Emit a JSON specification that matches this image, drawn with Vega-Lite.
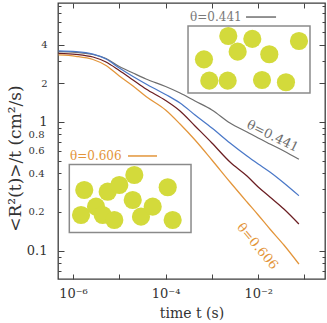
{
  "$schema": "https://vega.github.io/schema/vega-lite/v6.json",
  "width": 267,
  "height": 276,
  "autosize": {"type": "none"},
  "padding": {"left": 58, "top": 3, "right": 2, "bottom": 44},
  "background": "white",
  "config": {
    "view": {"stroke": "#3c3c3c", "strokeWidth": 1.3},
    "font": "DejaVu Serif"
  },
  "datasets": {
    "curves": [
      {"t": 4.87e-7, "r": 3.517, "curve": "s1"}, {"t": 1.161e-6, "r": 3.48, "curve": "s1"}, {"t": 2.7e-6, "r": 3.345, "curve": "s1"}, {"t": 5.16e-6, "r": 3.114, "curve": "s1"}, {"t": 1.0e-5, "r": 2.7, "curve": "s1"}, {"t": 1.977e-5, "r": 2.403, "curve": "s1"}, {"t": 3.775e-5, "r": 2.159, "curve": "s1"}, {"t": 1.0e-4, "r": 1.887, "curve": "s1"}, {"t": 2.05e-4, "r": 1.68, "curve": "s1"}, {"t": 4.32e-4, "r": 1.456, "curve": "s1"}, {"t": 1.0e-3, "r": 1.24, "curve": "s1"}, {"t": 2.46e-3, "r": 0.982, "curve": "s1"}, {"t": 5.73e-3, "r": 0.836, "curve": "s1"}, {"t": 1.0e-2, "r": 0.751, "curve": "s1"}, {"t": 1.79e-2, "r": 0.675, "curve": "s1"}, {"t": 3.59e-2, "r": 0.595, "curve": "s1"}, {"t": 7.57e-2, "r": 0.513, "curve": "s1"},
      {"t": 4.87e-7, "r": 3.562, "curve": "s2"}, {"t": 1.161e-6, "r": 3.517, "curve": "s2"}, {"t": 2.7e-6, "r": 3.363, "curve": "s2"}, {"t": 5.16e-6, "r": 3.087, "curve": "s2"}, {"t": 1.0e-5, "r": 2.628, "curve": "s2"}, {"t": 1.977e-5, "r": 2.257, "curve": "s2"}, {"t": 3.775e-5, "r": 1.974, "curve": "s2"}, {"t": 1.0e-4, "r": 1.636, "curve": "s2"}, {"t": 2.05e-4, "r": 1.405, "curve": "s2"}, {"t": 4.32e-4, "r": 1.133, "curve": "s2"}, {"t": 1.0e-3, "r": 0.898, "curve": "s2"}, {"t": 2.46e-3, "r": 0.687, "curve": "s2"}, {"t": 5.73e-3, "r": 0.544, "curve": "s2"}, {"t": 1.0e-2, "r": 0.472, "curve": "s2"}, {"t": 1.79e-2, "r": 0.409, "curve": "s2"}, {"t": 3.59e-2, "r": 0.336, "curve": "s2"}, {"t": 7.57e-2, "r": 0.2676, "curve": "s2"},
      {"t": 4.87e-7, "r": 3.419, "curve": "s3"}, {"t": 1.161e-6, "r": 3.357, "curve": "s3"}, {"t": 2.7e-6, "r": 3.199, "curve": "s3"}, {"t": 5.16e-6, "r": 2.926, "curve": "s3"}, {"t": 1.0e-5, "r": 2.512, "curve": "s3"}, {"t": 1.977e-5, "r": 2.12, "curve": "s3"}, {"t": 3.775e-5, "r": 1.805, "curve": "s3"}, {"t": 1.0e-4, "r": 1.469, "curve": "s3"}, {"t": 2.05e-4, "r": 1.218, "curve": "s3"}, {"t": 4.32e-4, "r": 0.931, "curve": "s3"}, {"t": 1.0e-3, "r": 0.687, "curve": "s3"}, {"t": 2.46e-3, "r": 0.489, "curve": "s3"}, {"t": 5.73e-3, "r": 0.3806, "curve": "s3"}, {"t": 1.0e-2, "r": 0.3126, "curve": "s3"}, {"t": 1.79e-2, "r": 0.2615, "curve": "s3"}, {"t": 3.59e-2, "r": 0.2109, "curve": "s3"}, {"t": 7.57e-2, "r": 0.1612, "curve": "s3"},
      {"t": 4.87e-7, "r": 3.316, "curve": "s4"}, {"t": 1.161e-6, "r": 3.24, "curve": "s4"}, {"t": 2.7e-6, "r": 3.059, "curve": "s4"}, {"t": 5.16e-6, "r": 2.748, "curve": "s4"}, {"t": 1.0e-5, "r": 2.278, "curve": "s4"}, {"t": 1.977e-5, "r": 1.904, "curve": "s4"}, {"t": 3.775e-5, "r": 1.578, "curve": "s4"}, {"t": 1.0e-4, "r": 1.24, "curve": "s4"}, {"t": 2.05e-4, "r": 0.965, "curve": "s4"}, {"t": 4.32e-4, "r": 0.7246, "curve": "s4"}, {"t": 1.0e-3, "r": 0.5067, "curve": "s4"}, {"t": 2.46e-3, "r": 0.3418, "curve": "s4"}, {"t": 5.73e-3, "r": 0.239, "curve": "s4"}, {"t": 1.0e-2, "r": 0.1894, "curve": "s4"}, {"t": 1.79e-2, "r": 0.1474, "curve": "s4"}, {"t": 3.59e-2, "r": 0.1107, "curve": "s4"}, {"t": 7.57e-2, "r": 0.0788, "curve": "s4"}
    ],
    "boxes": [
      {"t1": 3.05e-4, "t2": 0.1315, "r1": 1.68, "r2": 5.57},
      {"t1": 8.32e-7, "t2": 3.54e-4, "r1": 0.1384, "r2": 0.4676}
    ],
    "discs": [
      {"t": 2.26e-3, "r": 4.66}, {"t": 7.46e-3, "r": 4.42}, {"t": 3.6e-3, "r": 3.52}, {"t": 0.076, "r": 4.26}, {"t": 6.74e-4, "r": 3.07}, {"t": 0.01738, "r": 3.36}, {"t": 8.79e-4, "r": 2.094}, {"t": 2.19e-3, "r": 2.094}, {"t": 0.01208, "r": 2.12}, {"t": 0.0398, "r": 2.035},
      {"t": 1.75e-6, "r": 0.2962}, {"t": 5.61e-6, "r": 0.2873}, {"t": 1.0e-5, "r": 0.324}, {"t": 2.11e-5, "r": 0.3875}, {"t": 1.11e-4, "r": 0.311}, {"t": 1.49e-6, "r": 0.1894}, {"t": 3.14e-6, "r": 0.2197}, {"t": 4.38e-6, "r": 0.1894}, {"t": 7.8e-6, "r": 0.1732}, {"t": 1.95e-5, "r": 0.2477}, {"t": 2.94e-5, "r": 0.1837}, {"t": 5.26e-5, "r": 0.2197}, {"t": 1.42e-4, "r": 0.1732}
    ],
    "keys": [
      {"t1": 5.46e-3, "t2": 0.0243, "r": 6.54, "curve": "s1"},
      {"t1": 1.54e-5, "t2": 6.52e-5, "r": 0.5444, "curve": "s4"}
    ]
  },
  "layer": [
    {
      "data": {"name": "curves"},
      "mark": {"type": "line", "strokeWidth": 1.25, "interpolate": "monotone"},
      "encoding": {
        "x": {
          "field": "t", "type": "quantitative",
          "scale": {"type": "log", "domain": [4.74e-7, 0.2773], "nice": false},
          "axis": {
            "orient": "bottom", "domain": false, "grid": false,
            "values": [1e-6, 1e-5, 1e-4, 1e-3, 1e-2, 1e-1],
            "labelExpr": "round(log(datum.value)/LN10) == -6 ? '10⁻⁶' : round(log(datum.value)/LN10) == -4 ? '10⁻⁴' : round(log(datum.value)/LN10) == -2 ? '10⁻²' : ''",
            "tickSize": -5, "tickColor": "#444", "labelPadding": 13,
            "labelFont": "DejaVu Serif", "labelFontSize": 13, "labelColor": "#333",
            "labelFlush": false, "labelOverlap": false,
            "title": "time t (s)", "titleFont": "DejaVu Serif", "titleFontSize": 14,
            "titleFontWeight": "normal", "titleColor": "#333",
            "titleY": 34, "titleBaseline": "middle"
          }
        },
        "y": {
          "field": "r", "type": "quantitative",
          "scale": {"type": "log", "domain": [0.06026, 8.406], "nice": false},
          "axis": {
            "orient": "left", "domain": false, "grid": false,
            "values": [0.07, 0.08, 0.09, 0.1, 0.2, 0.3, 0.4, 0.5, 0.6, 0.7, 0.8, 0.9, 1, 2, 3, 4, 5, 6, 7, 8],
            "labelExpr": "indexof([0.1, 0.2, 0.4, 0.6, 0.8, 1, 2, 4], datum.value) >= 0 ? datum.value + '' : ''",
            "tickSize": {"condition": {"test": "indexof([0.1, 1, 2, 4], datum.value) >= 0", "value": -6}, "value": -3},
            "tickColor": "#444", "labelPadding": 17,
            "labelFont": "DejaVu Serif", "labelColor": "#333",
            "labelFontSize": {"condition": {"test": "datum.value == 1 || datum.value == 0.1", "value": 13}, "value": 10},
            "labelOverlap": false,
            "title": "<R²(t)>/t (cm²/s)", "titleFont": "DejaVu Serif", "titleFontSize": 17,
            "titleFontWeight": "normal", "titleColor": "#333",
            "titleX": -43, "titleY": 155, "titleAlign": "center", "titleBaseline": "middle", "titleAngle": -90
          }
        },
        "color": {
          "field": "curve", "type": "nominal",
          "scale": {"domain": ["s1", "s2", "s3", "s4"], "range": ["#6e6e6e", "#4a78c8", "#6b1e22", "#e3953a"]},
          "legend": null
        }
      }
    },
    {
      "data": {"name": "boxes"},
      "mark": {"type": "rect", "filled": false, "stroke": "#8a8a8a", "strokeWidth": 1.5},
      "encoding": {
        "x": {
          "field": "t1", "type": "quantitative",
          "scale": {"type": "log", "domain": [4.74e-7, 0.2773], "nice": false},
          "axis": {
            "orient": "top", "domain": false, "grid": false, "labels": false, "title": null,
            "values": [1e-6, 1e-5, 1e-4, 1e-3, 1e-2, 1e-1],
            "tickSize": -5, "tickColor": "#444"
          }
        },
        "x2": {"field": "t2"},
        "y": {
          "field": "r1", "type": "quantitative",
          "scale": {"type": "log", "domain": [0.06026, 8.406], "nice": false},
          "axis": {
            "orient": "right", "domain": false, "grid": false, "labels": false, "title": null,
            "values": [0.07, 0.08, 0.09, 0.1, 0.2, 0.3, 0.4, 0.5, 0.6, 0.7, 0.8, 0.9, 1, 2, 3, 4, 5, 6, 7, 8],
            "tickSize": {"condition": {"test": "indexof([0.1, 1, 2, 4], datum.value) >= 0", "value": -6}, "value": -3},
            "tickColor": "#444"
          }
        },
        "y2": {"field": "r2"}
      }
    },
    {
      "data": {"name": "discs"},
      "mark": {"type": "point", "shape": "circle", "filled": true, "size": 330, "color": "#d3da3b", "opacity": 1},
      "encoding": {
        "x": {"field": "t", "type": "quantitative", "scale": {"type": "log", "domain": [4.74e-7, 0.2773], "nice": false}, "axis": null},
        "y": {"field": "r", "type": "quantitative", "scale": {"type": "log", "domain": [0.06026, 8.406], "nice": false}, "axis": null}
      }
    },
    {
      "data": {"name": "keys"},
      "mark": {"type": "rule", "strokeWidth": 1.5},
      "encoding": {
        "x": {"field": "t1", "type": "quantitative", "scale": {"type": "log", "domain": [4.74e-7, 0.2773], "nice": false}, "axis": null},
        "x2": {"field": "t2"},
        "y": {"field": "r", "type": "quantitative", "scale": {"type": "log", "domain": [0.06026, 8.406], "nice": false}, "axis": null},
        "color": {"field": "curve", "type": "nominal", "scale": {"domain": ["s1", "s2", "s3", "s4"], "range": ["#6e6e6e", "#4a78c8", "#6b1e22", "#e3953a"]}, "legend": null}
      }
    },
    {
      "data": {"values": [{"t": 3.37e-4, "r": 6.54, "label": "θ=0.441"}]},
      "mark": {"type": "text", "align": "left", "baseline": "middle", "font": "DejaVu Serif", "fontSize": 12, "color": "#7a7a7a"},
      "encoding": {
        "x": {"field": "t", "type": "quantitative", "scale": {"type": "log", "domain": [4.74e-7, 0.2773], "nice": false}, "axis": null},
        "y": {"field": "r", "type": "quantitative", "scale": {"type": "log", "domain": [0.06026, 8.406], "nice": false}, "axis": null},
        "text": {"field": "label"}
      }
    },
    {
      "data": {"values": [{"t": 8.61e-7, "r": 0.5444, "label": "θ=0.606"}]},
      "mark": {"type": "text", "align": "left", "baseline": "middle", "font": "DejaVu Serif", "fontSize": 12, "color": "#e3953a"},
      "encoding": {
        "x": {"field": "t", "type": "quantitative", "scale": {"type": "log", "domain": [4.74e-7, 0.2773], "nice": false}, "axis": null},
        "y": {"field": "r", "type": "quantitative", "scale": {"type": "log", "domain": [0.06026, 8.406], "nice": false}, "axis": null},
        "text": {"field": "label"}
      }
    },
    {
      "data": {"values": [{"t": 0.0205, "r": 0.775, "label": "θ=0.441"}]},
      "mark": {"type": "text", "align": "center", "baseline": "middle", "font": "DejaVu Serif", "fontSize": 13, "color": "#6e6e6e", "angle": 26},
      "encoding": {
        "x": {"field": "t", "type": "quantitative", "scale": {"type": "log", "domain": [4.74e-7, 0.2773], "nice": false}, "axis": null},
        "y": {"field": "r", "type": "quantitative", "scale": {"type": "log", "domain": [0.06026, 8.406], "nice": false}, "axis": null},
        "text": {"field": "label"}
      }
    },
    {
      "data": {"values": [{"t": 9.6e-3, "r": 0.108, "label": "θ=0.606"}]},
      "mark": {"type": "text", "align": "center", "baseline": "middle", "font": "DejaVu Serif", "fontSize": 13, "color": "#e3953a", "angle": 50},
      "encoding": {
        "x": {"field": "t", "type": "quantitative", "scale": {"type": "log", "domain": [4.74e-7, 0.2773], "nice": false}, "axis": null},
        "y": {"field": "r", "type": "quantitative", "scale": {"type": "log", "domain": [0.06026, 8.406], "nice": false}, "axis": null},
        "text": {"field": "label"}
      }
    }
  ],
  "resolve": {"axis": {"x": "independent", "y": "independent"}}
}
